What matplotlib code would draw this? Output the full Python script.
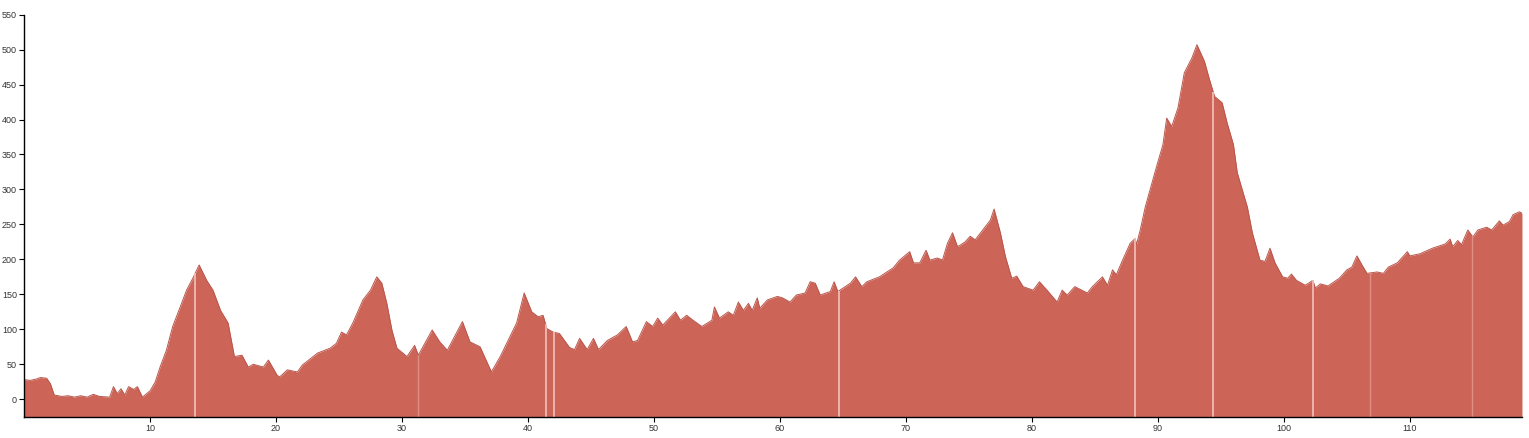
import numpy as np
import matplotlib
matplotlib.use('Agg')
import matplotlib.pyplot as plt

plt.rcParams['font.family'] = ['Liberation Sans', 'DejaVu Sans']

# distance along the route (km) and elevation (m)
km = [0.0, 0.5, 1.0, 1.3, 1.8, 2.1, 2.4, 3.0, 3.5, 4.0, 4.5, 5.0, 5.5, 6.0, 6.8,
      7.1, 7.4, 7.7, 8.0, 8.3, 8.7, 9.0, 9.4, 10.0, 10.4, 10.8, 11.3, 11.8, 12.4,
      12.9, 13.4, 13.9, 14.5, 15.0, 15.6, 16.2, 16.7, 17.3, 17.8, 18.2, 19.0,
      19.4, 20.1, 20.3, 20.9, 21.7, 22.1, 23.3, 24.3, 24.8, 25.2, 25.6, 26.1,
      26.9, 27.5, 28.0, 28.4, 28.8, 29.2, 29.6, 30.4, 31.0, 31.3, 32.4, 33.0,
      33.6, 34.8, 35.4, 36.2, 37.1, 37.8, 39.1, 39.7, 40.3, 40.8, 41.2, 41.5,
      42.0, 42.5, 43.3, 43.7, 44.1, 44.7, 45.2, 45.6, 46.3, 47.1, 47.8, 48.3,
      48.7, 49.4, 49.9, 50.3, 50.7, 51.7, 52.1, 52.6, 53.1, 53.8, 54.6, 54.8,
      55.2, 55.9, 56.3, 56.7, 57.1, 57.5, 57.8, 58.2, 58.4, 59.0, 59.8, 60.2,
      60.8, 61.3, 62.0, 62.4, 62.8, 63.2, 64.0, 64.3, 64.6, 65.6, 66.0, 66.5,
      66.9, 67.9, 69.0, 69.5, 70.3, 70.6, 71.1, 71.6, 71.9, 72.5, 72.9, 73.3,
      73.7, 74.1, 74.7, 75.1, 75.5, 76.1, 76.7, 77.0, 77.5, 77.9, 78.4, 78.8,
      79.3, 80.1, 80.6, 81.2, 82.0, 82.4, 82.8, 83.4, 84.4, 84.8, 85.6, 86.0,
      86.4, 86.7, 87.2, 87.8, 88.2, 88.3, 88.6, 89.0, 89.6, 89.9, 90.4, 90.7,
      91.1, 91.6, 92.1, 92.7, 93.1, 93.7, 94.1, 94.5, 95.1, 95.5, 96.0, 96.3,
      97.1, 97.5, 98.1, 98.5, 98.9, 99.3, 99.9, 100.3, 100.6, 101.0, 101.7,
      102.3, 102.5, 102.9, 103.5, 104.4, 105.0, 105.4, 105.8, 106.2, 106.6,
      107.4, 107.9, 108.3, 109.0, 109.8, 110.0, 110.8, 111.8, 112.8, 113.2,
      113.4, 113.8, 114.1, 114.6, 115.0, 115.4, 116.1, 116.5, 117.1, 117.4,
      117.9, 118.2, 118.7, 118.9]
elev = [28, 27, 29, 31, 30, 22, 6, 4, 5, 3, 5, 3, 7, 4, 3,
        18, 8, 15, 6, 18, 14, 18, 3, 12, 24, 46, 70, 104, 132,
        156, 173, 192, 170, 156, 127, 109, 61, 63, 46, 50, 46,
        56, 34, 32, 42, 39, 49, 66, 73, 80, 96, 92, 109,
        142, 156, 175, 166, 137, 99, 73, 61, 77, 63, 99, 82,
        70, 111, 82, 75, 39, 61, 109, 152, 125, 118, 120, 101,
        96, 94, 74, 71, 87, 71, 87, 71, 84, 92, 104, 82,
        84, 111, 104, 116, 106, 125, 113, 120, 113, 104, 113, 132,
        116, 125, 120, 139, 127, 137, 127, 145, 130, 142, 147, 145,
        139, 149, 152, 168, 166, 149, 154, 168, 154, 166, 175, 161,
        168, 175, 188, 199, 211, 195, 195, 213, 199, 202, 199, 223,
        238, 218, 225, 233, 228, 242, 256, 272, 238, 204, 173, 176,
        161, 156, 168, 156, 139, 156, 149, 161, 152, 161, 175, 163,
        185, 178, 199, 223, 230, 221, 242, 275, 314, 333, 364, 402,
        390, 417, 467, 488, 507, 483, 457, 433, 424, 395, 364, 324,
        275, 238, 199, 197, 216, 195, 175, 173, 179, 170, 163,
        170, 159, 165, 162, 173, 185, 189, 205, 192, 180,
        182, 180, 189, 195, 211, 205, 208, 216, 222, 229,
        218, 227, 221, 242, 232, 242, 246, 242, 255, 249,
        254, 264, 268, 266]

# light vertical breaks between track segments
gaps = [13.6, 41.4, 42.1, 64.7, 88.2, 94.4, 102.3]
faint_gaps = [31.3, 106.8, 114.9]

fig = plt.figure(figsize=(15.29, 4.38), dpi=100)
ax = fig.add_axes([0.0157, 0.0486, 0.9797, 0.918])

ax.fill_between(km, elev, -25, color='#cd6458', linewidth=0)
ax.plot(km, elev, color='#b9564b', linewidth=0.7)

ax.vlines(gaps, -25, np.interp(gaps, km, elev), color='#f3c2bb', linewidth=1.2)
ax.vlines(faint_gaps, -25, np.interp(faint_gaps, km, elev), color='#e08e84', linewidth=1.0)

ax.set_xlim(0, 118.9)
ax.set_ylim(-25, 550)
ax.set_xticks(range(10, 111, 10))
ax.set_yticks(range(0, 551, 50))
ax.tick_params(labelsize=6.5, labelcolor='#333333', length=3.6, width=0.8, pad=1.5)
for s in ['top', 'right']:
    ax.spines[s].set_visible(False)
for s in ['left', 'bottom']:
    ax.spines[s].set_linewidth(1.0)

fig.savefig('out.png', dpi=100)
